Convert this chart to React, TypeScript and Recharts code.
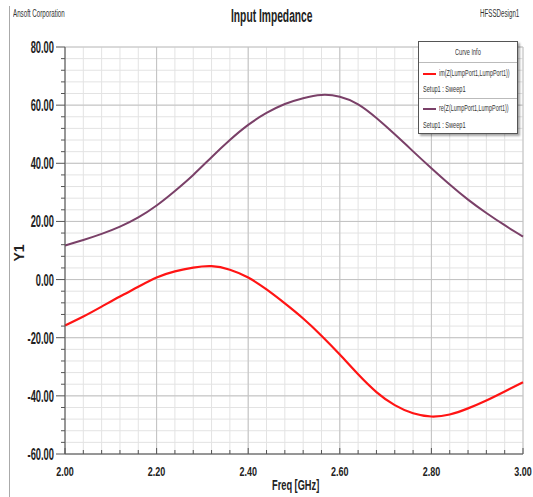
import React from 'react';
import { LineChart, Line, XAxis, YAxis, CartesianGrid } from 'recharts';

const freq = [2.0, 2.04, 2.08, 2.12, 2.16, 2.2, 2.24, 2.28, 2.32, 2.36, 2.4, 2.44, 2.48, 2.52, 2.56, 2.6, 2.64, 2.68, 2.72, 2.76, 2.8, 2.84, 2.88, 2.92, 2.96, 3.0];
const imZ = [-15.8, -12.7, -9.3, -5.8, -2.5, 0.7, 2.8, 4.1, 4.6, 3.4, 0.7, -3.4, -8.2, -13.4, -19.3, -25.8, -32.6, -38.7, -43.2, -46.0, -47.1, -46.4, -44.3, -41.6, -38.5, -35.3];
const reZ = [11.7, 13.6, 15.7, 18.2, 21.4, 25.5, 30.5, 36.0, 42.1, 48.0, 53.2, 57.3, 60.4, 62.4, 63.5, 62.9, 60.3, 55.6, 50.0, 44.1, 38.3, 32.7, 27.5, 22.9, 18.7, 14.8];
const xMajor = [2.0, 2.2, 2.4, 2.6, 2.8, 3.0];
const yMajor = [-60, -40, -20, 0, 20, 40, 60, 80];
const X_SUB = 5; // minor divisions per major step
const Y_SUB = 5;

const imName = 'im(Z(LumpPort1,LumpPort1))';
const reName = 're(Z(LumpPort1,LumpPort1))';
const setupName = 'Setup1 : Sweep1';

const data = freq.map((f, i) => ({ f, im: imZ[i], re: reZ[i] }));

const subdivide = (major: number[], n: number) => {
  const out: number[] = [];
  for (let i = 0; i < major.length - 1; i++) {
    const step = (major[i + 1] - major[i]) / n;
    for (let k = 0; k < n; k++) out.push(+(major[i] + k * step).toFixed(4));
  }
  out.push(major[major.length - 1]);
  return out;
};
const xTicks = subdivide(xMajor, X_SUB);
const yTicks = subdivide(yMajor, Y_SUB);

const FONT = '"Liberation Sans", Arial, sans-serif';
const RED = '#ff1414';
const PURPLE = '#7a4068';
const AXIS = '#555';

// squeezed text, the reference font is very condensed
const Narrow = ({ s, children, style }: any) => (
  <span style={{ display: 'inline-block', transform: `scaleX(${s})`, transformOrigin: 'left center', whiteSpace: 'nowrap', ...style }}>
    {children}
  </span>
);

const YTick = ({ x, y, payload }: any) => {
  const v = payload.value;
  const major = Math.abs(v % 20) < 1e-6;
  return (
    <g transform={`translate(${x},${y})`}>
      <line x1={major ? -9 : -4} x2={0} y1={0} y2={0} stroke={AXIS} />
      {major && (
        <text transform="translate(-11,6) scale(0.55,1)" textAnchor="end" fontSize={17} fontWeight="bold" fill="#222" fontFamily={FONT}>
          {v.toFixed(2)}
        </text>
      )}
    </g>
  );
};

const XTick = ({ x, y, payload }: any) => {
  const v = payload.value;
  const major = xMajor.some((m) => Math.abs(m - v) < 1e-6);
  return (
    <g transform={`translate(${x},${y})`}>
      <line x1={0} x2={0} y1={major ? -6 : -4} y2={0} stroke={AXIS} />
      {major && (
        <text transform="translate(0,22) scale(0.75,1)" textAnchor="middle" fontSize={12} fontWeight="bold" fill="#222" fontFamily={FONT}>
          {v.toFixed(2)}
        </text>
      )}
    </g>
  );
};

const CurveInfo = () => (
  <div style={{
    position: 'absolute', left: 418, top: 41, width: 98, height: 91,
    border: '1px solid #555', background: '#fff',
    boxShadow: '2px 2px 2px rgba(0,0,0,0.35)',
    fontFamily: FONT, fontSize: 9, color: '#333',
  }}>
    <div style={{ position: 'absolute', left: 36, top: 5 }}><Narrow s={0.62}>Curve Info</Narrow></div>
    <div style={{ position: 'absolute', left: 0, right: 0, top: 20, height: 1, background: '#bbb' }} />
    <div style={{ position: 'absolute', left: 4, top: 31, width: 13, height: 2, background: RED }} />
    <div style={{ position: 'absolute', left: 20, top: 26 }}><Narrow s={0.6}>{imName}</Narrow></div>
    <div style={{ position: 'absolute', left: 4, top: 42 }}><Narrow s={0.62}>{setupName}</Narrow></div>
    <div style={{ position: 'absolute', left: 0, right: 0, top: 56, height: 1, background: '#bbb' }} />
    <div style={{ position: 'absolute', left: 4, top: 66, width: 13, height: 2, background: PURPLE }} />
    <div style={{ position: 'absolute', left: 20, top: 61 }}><Narrow s={0.6}>{reName}</Narrow></div>
    <div style={{ position: 'absolute', left: 4, top: 78 }}><Narrow s={0.62}>{setupName}</Narrow></div>
  </div>
);

const App: React.FC = () => {
  const majorV = ({ offset }: any) => xMajor.map((_, i) => offset.left + (offset.width * i) / (xMajor.length - 1));
  const majorH = ({ offset }: any) => yMajor.map((_, i) => offset.top + (offset.height * i) / (yMajor.length - 1));

  return (
    <div style={{ position: 'absolute', left: 0, top: 0, width: 533, height: 497, background: '#fff', fontFamily: FONT, overflow: 'hidden' }}>
      <div style={{ position: 'absolute', left: 9, top: 6, width: 1, height: 491, background: '#aaa' }} />
      <div style={{ position: 'absolute', left: 13, top: 8, fontSize: 10, color: '#333' }}><Narrow s={0.62}>Ansoft Corporation</Narrow></div>
      <div style={{ position: 'absolute', left: 480, top: 8, fontSize: 10, color: '#333' }}><Narrow s={0.62}>HFSSDesign1</Narrow></div>
      <div style={{ position: 'absolute', left: 231, top: 6, fontSize: 18, fontWeight: 'bold', color: '#222' }}><Narrow s={0.57}>Input Impedance</Narrow></div>
      <div style={{ position: 'absolute', left: 272, top: 477, fontSize: 14, fontWeight: 'bold', color: '#222' }}><Narrow s={0.66}>Freq [GHz]</Narrow></div>
      <div style={{ position: 'absolute', left: 10, top: 245, fontSize: 14, fontWeight: 'bold', color: '#222', transform: 'rotate(-90deg)' }}>Y1</div>
      <LineChart width={533} height={497} data={data} margin={{ top: 47, right: 10, left: 10, bottom: 0 }}>
        <CartesianGrid stroke="#e3e3e3" />
        <CartesianGrid stroke="#c2c2c2" verticalCoordinatesGenerator={majorV} horizontalCoordinatesGenerator={majorH} />
        <XAxis
          dataKey="f"
          type="number"
          domain={[2, 3]}
          ticks={xTicks}
          interval={0}
          height={43}
          tickSize={0}
          tickMargin={0}
          tick={<XTick />}
          stroke={AXIS}
        />
        <YAxis
          type="number"
          domain={[-60, 80]}
          ticks={yTicks}
          interval={0}
          width={55}
          tickSize={0}
          tickMargin={0}
          tick={<YTick />}
          stroke={AXIS}
        />
        <XAxis xAxisId="top" orientation="top" dataKey="f" type="number" domain={[2, 3]} ticks={[]} height={0} stroke={AXIS} />
        <YAxis yAxisId="right" orientation="right" domain={[-60, 80]} ticks={[]} width={0} stroke={AXIS} />
        <Line type="natural" dataKey="re" name={reName} stroke={PURPLE} strokeWidth={2} dot={false} isAnimationActive={false} />
        <Line type="natural" dataKey="im" name={imName} stroke={RED} strokeWidth={2.2} dot={false} isAnimationActive={false} />
      </LineChart>
      <CurveInfo />
    </div>
  );
};

export default App;
